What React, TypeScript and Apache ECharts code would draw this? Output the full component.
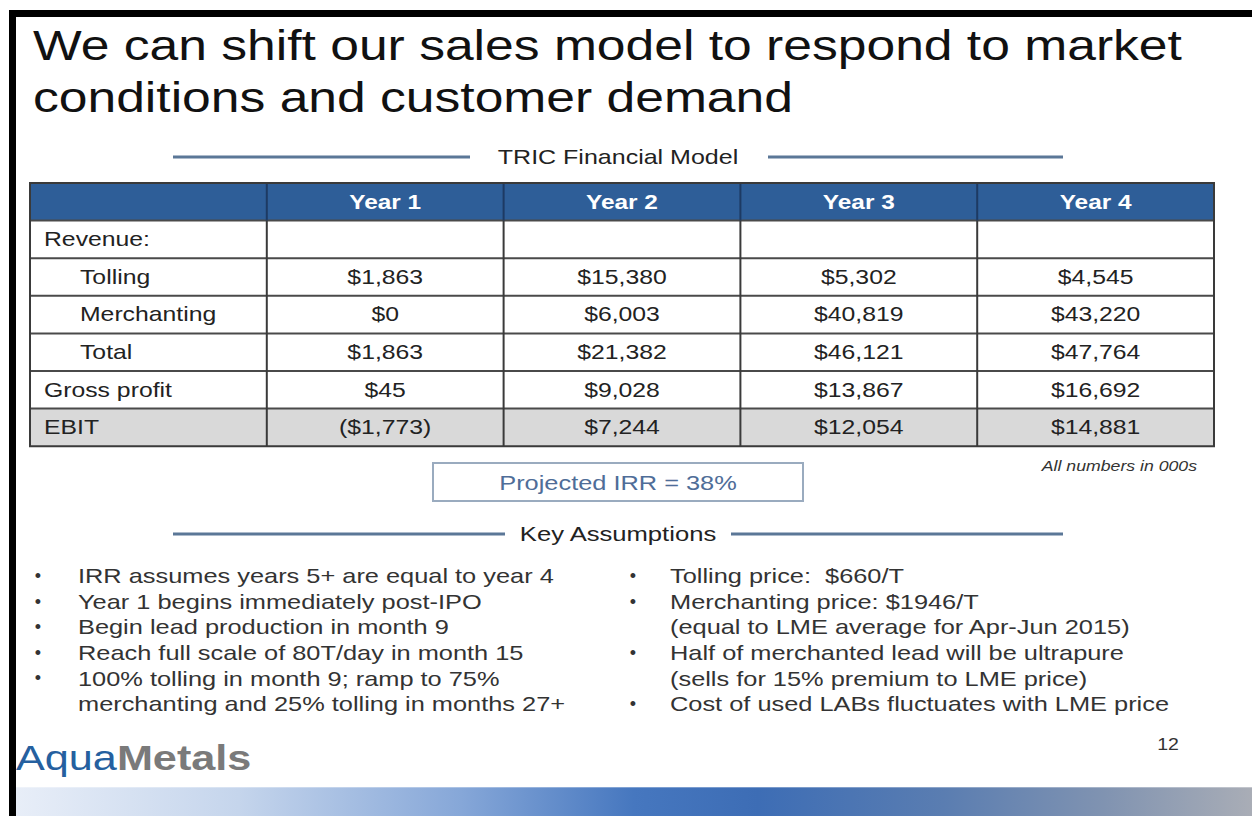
import React, { useEffect, useRef } from "react";
import * as echarts from "echarts";

const FF = '"Liberation Sans", Arial, Helvetica, sans-serif';
const SX = 1.22;

// ---- content ----
const titleLines = [
  "We can shift our sales model to respond to market",
  "conditions and customer demand",
];
const tableTitle = "TRIC Financial Model";
const years = ["Year 1", "Year 2", "Year 3", "Year 4"];
const rowLabels = ["Revenue:", "Tolling", "Merchanting", "Total", "Gross profit", "EBIT"];
const rowIndent = [false, true, true, true, false, false];
const tolling = [1863, 15380, 5302, 4545];
const merchanting = [0, 6003, 40819, 43220];
const total = [1863, 21382, 46121, 47764];
const grossProfit = [45, 9028, 13867, 16692];
const ebit = [-1773, 7244, 12054, 14881];
const irrText = "Projected IRR = 38%";
const unitsNote = "All numbers in 000s";
const assumptionsTitle = "Key Assumptions";
const leftBullets = [
  ["IRR assumes years 5+ are equal to year 4"],
  ["Year 1 begins immediately post-IPO"],
  ["Begin lead production in month 9"],
  ["Reach full scale of 80T/day in month 15"],
  ["100% tolling in month 9; ramp to 75%", "merchanting and 25% tolling in months 27+"],
];
const rightBullets = [
  ["Tolling price:  $660/T"],
  ["Merchanting price: $1946/T", "(equal to LME average for Apr-Jun 2015)"],
  ["Half of merchanted lead will be ultrapure", "(sells for 15% premium to LME price)"],
  ["Cost of used LABs fluctuates with LME price"],
];
const pageNumber = "12";

const fmt = (v: number) =>
  v < 0 ? `($${Math.abs(v).toLocaleString("en-US")})` : `$${v.toLocaleString("en-US")}`;

function T(x: number, y: number, text: string, size: number, o: any = {}) {
  const align = o.align || "left";
  return {
    type: "text",
    x,
    y,
    scaleX: o.sx ?? SX,
    silent: true,
    style: {
      text,
      fontSize: size,
      fontFamily: FF,
      fontWeight: o.weight || "normal",
      fontStyle: o.italic ? "italic" : "normal",
      fill: o.color || "#262626",
      textAlign: align,
      textVerticalAlign: "middle",
      align,
      verticalAlign: "middle",
      rich: o.rich,
    },
  };
}

function buildGraphic() {
  const g: any[] = [];
  // frame
  g.push({ type: "rect", shape: { x: 9, y: 10, width: 1252 - 9, height: 7 }, style: { fill: "#000" } });
  g.push({ type: "rect", shape: { x: 9, y: 10, width: 7, height: 816 - 10 }, style: { fill: "#000" } });

  // title
  g.push(T(33, 45, titleLines[0], 43, { color: "#111", sx: 1.2 }));
  g.push(T(33, 97, titleLines[1], 43, { color: "#111", sx: 1.2 }));

  // section header lines
  const lineStyle = { stroke: "#5b7797", lineWidth: 3 };
  g.push({ type: "line", shape: { x1: 173, y1: 157, x2: 470, y2: 157 }, style: lineStyle });
  g.push({ type: "line", shape: { x1: 768, y1: 157, x2: 1063, y2: 157 }, style: lineStyle });
  g.push(T(618, 157, tableTitle, 20.5, { align: "center", color: "#222" }));

  // table
  const x0 = 30, x1 = 1214, y0 = 183, rh = 37.6;
  const cw = (x1 - x0) / 5;
  const nRows = rowLabels.length + 1;
  const y1 = y0 + nRows * rh;
  g.push({ type: "rect", shape: { x: x0, y: y0, width: x1 - x0, height: rh }, style: { fill: "#2e5e98" } });
  g.push({ type: "rect", shape: { x: x0, y: y0 + 6 * rh, width: x1 - x0, height: rh }, style: { fill: "#d9d9d9" } });
  for (let i = 1; i < nRows; i++) {
    g.push({ type: "line", shape: { x1: x0, y1: y0 + i * rh, x2: x1, y2: y0 + i * rh }, style: { stroke: "#4a4a4a", lineWidth: 2 } });
  }
  for (let j = 1; j < 5; j++) {
    const x = x0 + j * cw;
    g.push({ type: "line", shape: { x1: x, y1: y0, x2: x, y2: y0 + rh }, style: { stroke: "#1d3a63", lineWidth: 2 } });
    g.push({ type: "line", shape: { x1: x, y1: y0 + rh, x2: x, y2: y1 }, style: { stroke: "#3a3a3a", lineWidth: 2 } });
  }
  g.push({ type: "rect", shape: { x: x0, y: y0, width: x1 - x0, height: y1 - y0 }, style: { fill: "none", stroke: "#3a3a3a", lineWidth: 2 } });

  years.forEach((yr, j) => {
    g.push(T(x0 + (j + 1.5) * cw, y0 + rh / 2, yr, 20, { align: "center", color: "#ffffff", weight: "bold" }));
  });
  const rowsData: (number[] | null)[] = [null, tolling, merchanting, total, grossProfit, ebit];
  rowLabels.forEach((lab, i) => {
    const cy = y0 + (i + 1.5) * rh;
    g.push(T(rowIndent[i] ? 80 : 44, cy, lab, 20.3, { color: "#222" }));
    const vals = rowsData[i];
    if (vals) {
      vals.forEach((v, j) => {
        g.push(T(x0 + (j + 1.5) * cw, cy, fmt(v), 20.3, { align: "center", color: "#222" }));
      });
    }
  });

  // units note
  g.push(T(1197, 466, unitsNote, 14.5, { align: "right", italic: true, color: "#333" }));

  // IRR box
  g.push({ type: "rect", shape: { x: 433, y: 463, width: 370, height: 38 }, style: { fill: "#fff", stroke: "#9aabbf", lineWidth: 2 } });
  g.push(T(618, 483, irrText, 20.8, { align: "center", color: "#4f6d98" }));

  // key assumptions header
  g.push({ type: "line", shape: { x1: 173, y1: 534, x2: 505, y2: 534 }, style: lineStyle });
  g.push({ type: "line", shape: { x1: 731, y1: 534, x2: 1063, y2: 534 }, style: lineStyle });
  g.push(T(618, 534, assumptionsTitle, 21, { align: "center", color: "#222" }));

  // bullets
  const by0 = 576, bdy = 25.6;
  const drawBullets = (list: string[][], bx: number, tx: number) => {
    let row = 0;
    list.forEach((lines) => {
      g.push(T(bx, by0 + row * bdy, "•", 18, { align: "center", color: "#333", sx: 1 }));
      lines.forEach((ln) => {
        g.push(T(tx, by0 + row * bdy, ln, 20.8, { color: "#333" }));
        row++;
      });
    });
  };
  drawBullets(leftBullets, 38, 78);
  drawBullets(rightBullets, 633, 670);

  // logo
  g.push(
    T(16, 757, "{a|Aqua}{m|Metals}", 36, {
      sx: 1.2,
      rich: {
        a: { fontSize: 36, fontFamily: FF, fill: "#25609f", fontWeight: "normal" },
        m: { fontSize: 36, fontFamily: FF, fill: "#7a7a7a", fontWeight: "bold" },
      },
    })
  );

  // page number
  g.push(T(1168, 745, pageNumber, 16, { align: "center", color: "#333" }));

  // bottom gradient bar
  g.push({
    type: "rect",
    shape: { x: 16, y: 787, width: 1252 - 16, height: 816 - 787 },
    style: {
      fill: {
        type: "linear", x: 0, y: 0, x2: 1, y2: 0,
        colorStops: [
          { offset: 0, color: "#e8eef8" },
          { offset: 0.18, color: "#c5d5ec" },
          { offset: 0.36, color: "#86a7d8" },
          { offset: 0.5, color: "#4677bf" },
          { offset: 0.6, color: "#3d6db5" },
          { offset: 0.75, color: "#5a7db1" },
          { offset: 0.88, color: "#8093b1" },
          { offset: 1, color: "#a9adb6" },
        ],
      },
    },
  });
  g.push({ type: "line", shape: { x1: 16, y1: 787, x2: 1252, y2: 787 }, style: { stroke: "rgba(255,255,255,0.6)", lineWidth: 1 } });
  return g;
}

export default function App() {
  const ref = useRef<HTMLDivElement>(null);
  useEffect(() => {
    document.body.style.margin = "0";
    const chart = echarts.init(ref.current!, null, { renderer: "svg" });
    chart.setOption({
      animation: false,
      backgroundColor: "#ffffff",
      graphic: { elements: buildGraphic() },
    });
    return () => chart.dispose();
  }, []);
  return (
    <div
      ref={ref}
      style={{ position: "absolute", left: 0, top: 0, width: 1252, height: 816 }}
    />
  );
}
